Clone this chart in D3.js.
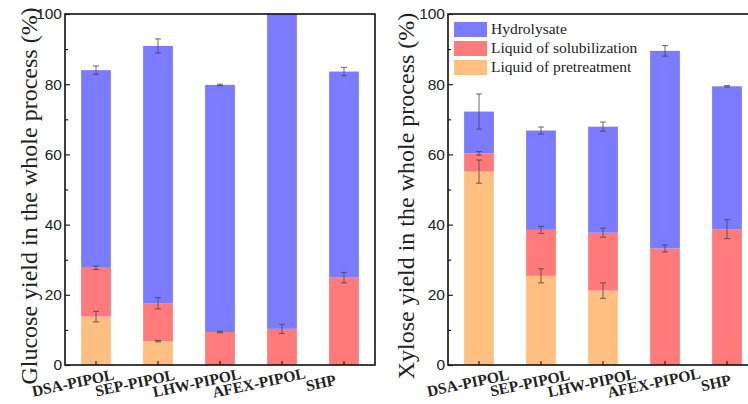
<!DOCTYPE html>
<html>
<head>
<meta charset="utf-8">
<script src="https://cdn.jsdelivr.net/npm/d3@7"></script>
<style>
  body { margin: 0; background: #fff; overflow: hidden; }
  svg { display: block; }
</style>
</head>
<body>
<div id="chart"></div>
<script>
const categories = ['DSA-PIPOL', 'SEP-PIPOL', 'LHW-PIPOL', 'AFEX-PIPOL', 'SHP'];
const seriesNames = ['Hydrolysate', 'Liquid of solubilization', 'Liquid of pretreatment'];

// glucose (left panel)
const glucosePretreat = [13.8, 6.8, 0, 0, 0];
const glucoseSolub = [13.9, 10.8, 9.4, 10.3, 24.9];
const glucoseHydro = [56.3, 73.3, 70.4, 89.7, 58.7];
const glucosePretreatErr = [1.5, 0.2, 0, 0, 0];
const glucoseSolubErr = [0.5, 1.6, 0.2, 1.3, 1.5];
const glucoseHydroErr = [1.2, 2.0, 0.2, 0, 1.2];

// xylose (right panel)
const xylosePretreat = [55.1, 25.4, 21.2, 0, 0];
const xyloseSolub = [5.2, 13.1, 16.5, 33.2, 38.7];
const xyloseHydro = [11.9, 28.3, 30.2, 56.3, 40.7];
const xylosePretreatErr = [3.3, 2.0, 2.2, 0, 0];
const xyloseSolubErr = [0.5, 1.0, 1.3, 1.0, 2.7];
const xyloseHydroErr = [5.0, 1.0, 1.3, 1.5, 0.2];

const yTicks = [0, 20, 40, 60, 80, 100];
const yMinorTicks = [10, 30, 50, 70, 90];

const colors = { pre: '#ffbf80', sol: '#ff7b7b', hyd: '#7b7bff' };
const serif = "'Liberation Serif', 'Times New Roman', serif";
const sans = "'Liberation Sans', Arial, sans-serif";

const width = 748;
const height = 404;

const svg = d3.select('#chart').append('svg')
  .attr('width', width)
  .attr('height', height);

const drawPanel = (opts) => {
  const w = 310;
  const h = 351;
  const g = svg.append('g').attr('transform', `translate(${opts.left},14)`);

  const x = d3.scaleBand()
    .domain(categories)
    .range([0, w])
    .paddingInner(0.52)
    .paddingOuter(0.26);

  const y = d3.scaleLinear().domain([0, 100]).range([h, 0]);

  const rows = categories.map((c, i) => {
    const p = opts.pre[i];
    const s = opts.sol[i];
    const hy = opts.hyd[i];
    return [
      { c, key: 'pre', y0: 0, y1: p, err: opts.preErr[i] },
      { c, key: 'sol', y0: p, y1: p + s, err: opts.solErr[i] },
      { c, key: 'hyd', y0: p + s, y1: p + s + hy, err: opts.hydErr[i] }
    ];
  }).flat().filter(d => d.y1 > d.y0);

  g.append('clipPath').attr('id', opts.id + '-clip')
    .append('rect').attr('width', w).attr('height', h);

  const plot = g.append('g').attr('clip-path', `url(#${opts.id}-clip)`);

  plot.selectAll('rect.bar')
    .data(rows)
    .enter()
    .append('rect')
    .attr('class', 'bar')
    .attr('x', d => x(d.c))
    .attr('width', x.bandwidth())
    .attr('y', d => y(d.y1))
    .attr('height', d => y(d.y0) - y(d.y1))
    .attr('fill', d => colors[d.key]);

  // error bars
  const errs = rows.filter(d => d.err > 0);
  const eb = plot.selectAll('g.err')
    .data(errs)
    .enter()
    .append('g')
    .attr('class', 'err')
    .attr('stroke', '#444')
    .attr('stroke-width', 0.8);
  const cx = d => x(d.c) + x.bandwidth() / 2;
  eb.append('line')
    .attr('x1', cx).attr('x2', cx)
    .attr('y1', d => y(d.y1 - d.err)).attr('y2', d => y(d.y1 + d.err));
  eb.append('line')
    .attr('x1', d => cx(d) - 3).attr('x2', d => cx(d) + 3)
    .attr('y1', d => y(d.y1 + d.err)).attr('y2', d => y(d.y1 + d.err));
  eb.append('line')
    .attr('x1', d => cx(d) - 3).attr('x2', d => cx(d) + 3)
    .attr('y1', d => y(d.y1 - d.err)).attr('y2', d => y(d.y1 - d.err));

  // axes
  const yAxis = d3.axisLeft(y).tickValues(yTicks).tickSizeInner(-5).tickSizeOuter(0).tickPadding(3);
  const gy = g.append('g').call(yAxis);
  gy.selectAll('text').attr('font-family', sans).attr('font-size', 15.5).attr('fill', '#222');
  gy.select('.domain').remove();

  const yMinor = d3.axisLeft(y).tickValues(yMinorTicks).tickSize(-3).tickFormat('');
  const gym = g.append('g').call(yMinor);
  gym.select('.domain').remove();

  const xAxis = d3.axisBottom(x).tickSizeInner(-4).tickSizeOuter(0).tickFormat('');
  const gx = g.append('g').attr('transform', `translate(0,${h})`).call(xAxis);
  gx.select('.domain').remove();
  g.selectAll('.tick line').attr('stroke', '#222').attr('stroke-width', 1.2);

  g.selectAll('text.cat')
    .data(categories)
    .enter()
    .append('text')
    .attr('class', 'cat')
    .attr('transform', d => `translate(${x(d) + x.bandwidth() / 2 + opts.labelShift},${h + 23}) rotate(-12)`)
    .attr('text-anchor', 'middle')
    .attr('font-family', serif)
    .attr('font-weight', 'bold')
    .attr('font-size', 15.5)
    .attr('fill', '#222')
    .text(d => d);

  // frame
  g.append('rect')
    .attr('width', w)
    .attr('height', h)
    .attr('fill', 'none')
    .attr('stroke', '#111')
    .attr('stroke-width', 1.6);

  svg.append('text')
    .attr('transform', `translate(${opts.titleX},196) rotate(-90)`)
    .attr('text-anchor', 'middle')
    .attr('font-family', serif)
    .attr('font-size', 24)
    .attr('fill', '#222')
    .text(opts.title);

  return g;
};

drawPanel({
  id: 'glu', left: 65, titleX: 37, labelShift: -22,
  title: 'Glucose yield in the whole process (%)',
  pre: glucosePretreat, sol: glucoseSolub, hyd: glucoseHydro,
  preErr: glucosePretreatErr, solErr: glucoseSolubErr, hydErr: glucoseHydroErr
});

const right = drawPanel({
  id: 'xyl', left: 448, titleX: 414, labelShift: -10,
  title: 'Xylose yield in the whole process (%)',
  pre: xylosePretreat, sol: xyloseSolub, hyd: xyloseHydro,
  preErr: xylosePretreatErr, solErr: xyloseSolubErr, hydErr: xyloseHydroErr
});

// legend
const legendKeys = ['hyd', 'sol', 'pre'];
const legend = right.append('g').attr('transform', 'translate(6,8)');
const item = legend.selectAll('g')
  .data(seriesNames)
  .enter()
  .append('g')
  .attr('transform', (d, i) => `translate(0,${i * 19})`);
item.append('rect')
  .attr('width', 33)
  .attr('height', 15)
  .attr('fill', (d, i) => colors[legendKeys[i]]);
item.append('text')
  .attr('x', 37)
  .attr('y', 12)
  .attr('font-family', serif)
  .attr('font-size', 15.5)
  .attr('fill', '#222')
  .text(d => d);
</script>
</body>
</html>
